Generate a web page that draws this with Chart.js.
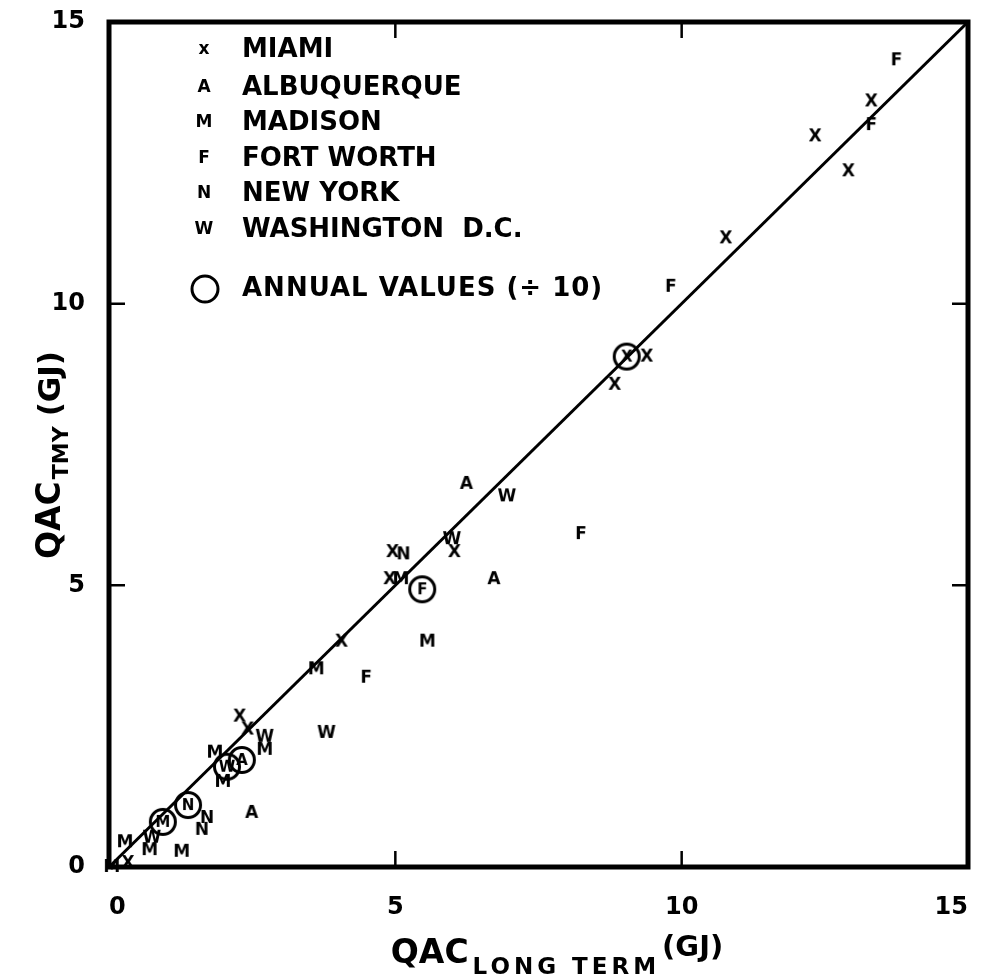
<!DOCTYPE html>
<html lang="en">
<head>
<meta charset="UTF-8">
<title>QAC TMY vs QAC long term</title>
<style>
    body { margin: 0; background: #fff; }
    #wrap { width: 981px; height: 980px; }
</style>
</head>
<body>
<div id="wrap"><canvas id="qacChart" width="981" height="980"></canvas></div>
<script src="https://cdn.jsdelivr.net/npm/chart.js"></script>
<script>
    // monthly values: [QAC long term, QAC TMY] in GJ
    const miami = [[13.31, 13.59], [12.33, 12.97], [12.91, 12.35], [10.77, 11.16], [9.39, 9.06],
                   [8.83, 8.56], [4.95, 5.59], [6.03, 5.59], [4.90, 5.11], [4.06, 4.00],
                   [2.28, 2.67], [2.42, 2.44], [0.33, 0.07]];
    const albuquerque = [[6.24, 6.80], [6.72, 5.11], [2.49, 0.96]];
    const madison = [[5.10, 5.11], [5.56, 4.00], [3.62, 3.51], [2.72, 2.08], [1.85, 2.03],
                     [1.99, 1.51], [0.28, 0.44], [0.71, 0.30], [1.27, 0.27], [0.05, 0.00]];
    const fortWorth = [[13.75, 14.32], [13.31, 13.17], [9.81, 10.30], [8.24, 5.91], [4.49, 3.36]];
    const newYork = [[5.14, 5.55], [1.71, 0.87], [1.62, 0.66]];
    const washington = [[6.95, 6.58], [5.99, 5.82], [3.80, 2.38], [2.72, 2.31], [0.75, 0.52]];

    // annual values (divided by 10), one per city
    const annualLetters = ['X', 'A', 'M', 'F', 'N', 'W'];
    const annualValues = [[9.04, 9.06], [2.32, 1.90], [0.94, 0.80], [5.47, 4.93], [1.38, 1.10], [2.06, 1.78]];

    const cityNames = ['MIAMI', 'ALBUQUERQUE', 'MADISON', 'FORT WORTH', 'NEW YORK', 'WASHINGTON  D.C.'];
    const cityLetters = ['x', 'A', 'M', 'F', 'N', 'W'];
    const tickValues = [0, 5, 10, 15];

    const FONT = '"DejaVu Sans", sans-serif';

    // little canvases used as point styles (letters, circled letters)
    function letterMark(ch, circled) {
        const s = circled ? 32 : 22;
        const c = document.createElement('canvas');
        c.width = s; c.height = s;
        const g = c.getContext('2d');
        g.fillStyle = '#000';
        g.font = 'bold ' + (circled ? 15 : 17) + 'px ' + FONT;
        g.textAlign = 'center';
        g.textBaseline = 'middle';
        g.fillText(ch, s / 2, s / 2 + 1);
        if (circled) {
            g.lineWidth = 3;
            g.beginPath();
            g.arc(s / 2, s / 2, 12.5, 0, Math.PI * 2);
            g.stroke();
        }
        return c;
    }

    const toXY = arr => arr.map(p => ({ x: p[0], y: p[1] }));

    const cityData = [miami, albuquerque, madison, fortWorth, newYork, washington];
    const datasets = cityData.map((d, i) => ({
        type: 'scatter',
        label: cityNames[i],
        data: toXY(d),
        pointStyle: letterMark(cityLetters[i].toUpperCase(), false),
        clip: false,
        order: 1
    }));
    annualValues.forEach((p, i) => {
        datasets.push({
            type: 'scatter',
            label: 'annual ' + cityNames[i],
            data: toXY([p]),
            pointStyle: letterMark(annualLetters[i], true),
            clip: false,
            order: 0
        });
    });
    // 1:1 line
    datasets.push({
        type: 'line',
        label: 'equal',
        data: [{ x: tickValues[0], y: tickValues[0] }, { x: tickValues[3], y: tickValues[3] }],
        borderColor: '#000',
        borderWidth: 3,
        pointRadius: 0,
        order: 5
    });

    function drawParts(ctx, parts) {
        let total = 0;
        parts.forEach(p => {
            ctx.font = p.font;
            ctx.letterSpacing = (p.spacing || 0) + 'px';
            p.w = ctx.measureText(p.text).width;
            total += p.w + (p.gap || 0);
        });
        let x = -total / 2;
        parts.forEach(p => {
            ctx.font = p.font;
            ctx.letterSpacing = (p.spacing || 0) + 'px';
            ctx.fillText(p.text, x, p.dy);
            x += p.w + (p.gap || 0);
        });
        ctx.letterSpacing = '0px';
    }

    const decorations = {
        id: 'decorations',
        afterDraw(chart) {
            const ctx = chart.ctx;
            const a = chart.chartArea;
            const xs = chart.scales.x, ys = chart.scales.y;
            ctx.save();
            ctx.strokeStyle = '#000';
            ctx.fillStyle = '#000';

            // frame
            ctx.lineWidth = 5;
            ctx.strokeRect(a.left, a.top, a.right - a.left, a.bottom - a.top);

            // inward ticks
            ctx.lineWidth = 2.5;
            ctx.beginPath();
            [5, 10].forEach(v => {
                const px = xs.getPixelForValue(v);
                const py = ys.getPixelForValue(v);
                ctx.moveTo(px, a.bottom); ctx.lineTo(px, a.bottom - 16);
                ctx.moveTo(px, a.top); ctx.lineTo(px, a.top + 16);
                ctx.moveTo(a.left, py); ctx.lineTo(a.left + 16, py);
                ctx.moveTo(a.right, py); ctx.lineTo(a.right - 16, py);
            });
            ctx.stroke();

            // legend
            ctx.textBaseline = 'middle';
            const rows = [50, 88, 123, 159, 194, 230];
            cityNames.forEach((name, i) => {
                ctx.textAlign = 'center';
                ctx.font = 'bold 17px ' + FONT;
                ctx.fillText(cityLetters[i], 204, rows[i]);
                ctx.textAlign = 'left';
                ctx.font = 'bold 26px ' + FONT;
                ctx.fillText(name, 242, rows[i]);
            });
            ctx.lineWidth = 3;
            ctx.beginPath();
            ctx.arc(205, 289, 13, 0, Math.PI * 2);
            ctx.stroke();
            ctx.letterSpacing = '1px';
            ctx.fillText('ANNUAL VALUES (÷ 10)', 242, 289);
            ctx.letterSpacing = '0px';

            // axis titles
            ctx.textAlign = 'left';
            ctx.textBaseline = 'alphabetic';
            ctx.save();
            ctx.translate(557, 963);
            drawParts(ctx, [
                { text: 'QAC', font: 'bold 33px ' + FONT, dy: 0, gap: 4 },
                { text: 'LONG TERM', font: 'bold 23px ' + FONT, dy: 11, spacing: 4, gap: 2 },
                { text: '(GJ)', font: 'bold 29px ' + FONT, dy: -7 }
            ]);
            ctx.restore();

            ctx.save();
            ctx.translate(60, 455);
            ctx.rotate(-Math.PI / 2);
            drawParts(ctx, [
                { text: 'QAC', font: 'bold 33px ' + FONT, dy: 0, gap: 2 },
                { text: 'TMY', font: 'bold 22px ' + FONT, dy: 8, gap: 10 },
                { text: '(GJ)', font: 'bold 31px ' + FONT, dy: 0 }
            ]);
            ctx.restore();

            ctx.restore();
        }
    };

    const ctx = document.getElementById('qacChart').getContext('2d');
    const qacChart = new Chart(ctx, {
        data: { datasets: datasets },
        options: {
            responsive: false,
            animation: false,
            layout: { padding: { top: 22, right: 13, left: 0, bottom: 0 } },
            plugins: { legend: { display: false }, tooltip: { enabled: false } },
            scales: {
                x: {
                    type: 'linear',
                    min: 0, max: 15,
                    afterBuildTicks: s => { s.ticks = tickValues.map(v => ({ value: v })); },
                    ticks: { color: '#000', font: { family: FONT, size: 24, weight: 'bold' }, padding: 18, align: 'inner' },
                    grid: { display: false },
                    border: { display: false },
                    afterFit: s => { s.height = 113; s.paddingLeft = 0; s.paddingRight = 0; }
                },
                y: {
                    type: 'linear',
                    min: 0, max: 15,
                    afterBuildTicks: s => { s.ticks = tickValues.map(v => ({ value: v })); },
                    ticks: { color: '#000', font: { family: FONT, size: 24, weight: 'bold' }, padding: 16 },
                    grid: { display: false },
                    border: { display: false },
                    afterFit: s => { s.width = 109; s.paddingTop = 0; s.paddingBottom = 0; }
                }
            }
        },
        plugins: [decorations]
    });
</script>
</body>
</html>
